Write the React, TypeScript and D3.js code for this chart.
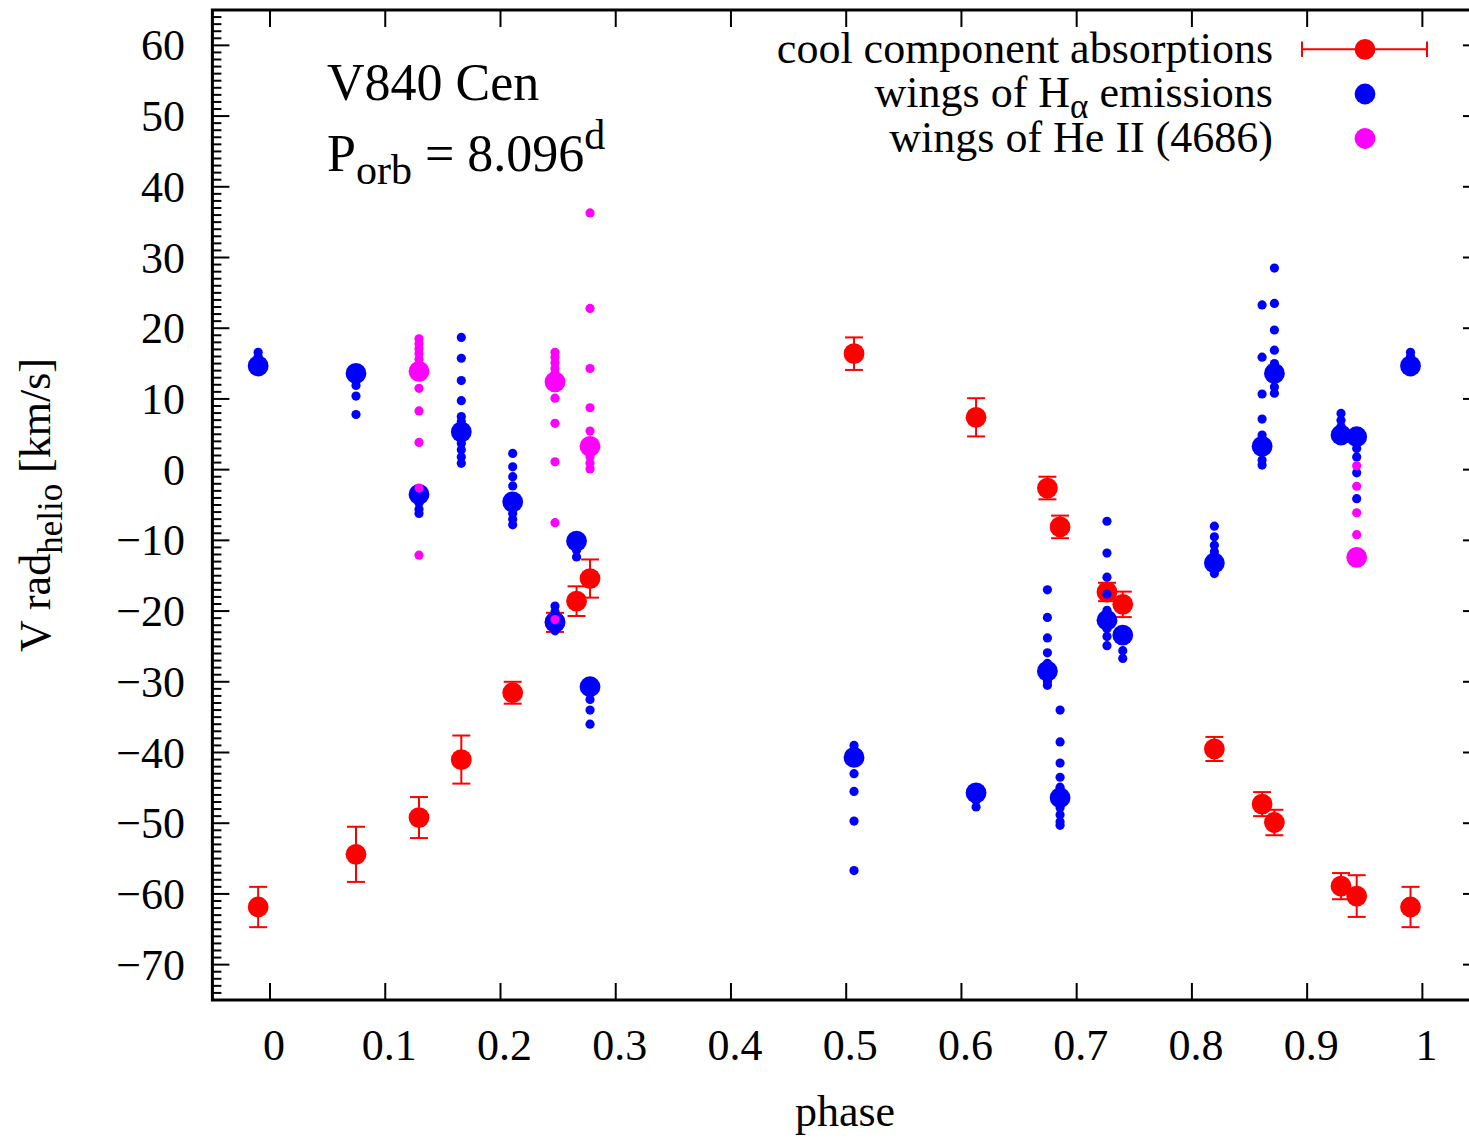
import React from 'react';
import * as d3 from 'd3';

const W = 1469;
const H = 1138;

// ---- axis ticks ----
const phaseTicks = [0, 0.1, 0.2, 0.3, 0.4, 0.5, 0.6, 0.7, 0.8, 0.9, 1];
const phaseTickLabels = ['0', '0.1', '0.2', '0.3', '0.4', '0.5', '0.6', '0.7', '0.8', '0.9', '1'];
const velTicks = [-70, -60, -50, -40, -30, -20, -10, 0, 10, 20, 30, 40, 50, 60];
const velTickLabels = ['\u221270', '\u221260', '\u221250', '\u221240', '\u221230', '\u221220', '\u221210', '0', '10', '20', '30', '40', '50', '60'];

// ---- cool component absorptions (red, with error bars) ----
const coolPhase = [0.0746, 0.1293, 0.166, 0.2106, 0.2473, 0.266, 0.2777, 0.5068, 0.6127, 0.6746, 0.6856, 0.7263, 0.740, 0.8195, 0.8609, 0.8716, 0.9294, 0.943, 0.9897];
const coolVel = [-54.4, -49.2, -41.0, -31.55, -21.6, -18.6, -15.4, 16.4, 7.4, -2.6, -8.1, -17.3, -19.05, -39.5, -47.3, -49.9, -58.9, -60.3, -61.85];
const coolErr = [3.9, 2.9, 3.4, 1.55, 1.35, 2.1, 2.7, 2.3, 2.7, 1.6, 1.6, 1.3, 1.8, 1.7, 1.7, 1.8, 1.85, 2.95, 2.85];

// ---- wings of H-alpha emission (blue) ----
const haPhase = [0.9897, 0.0746, 0.1293, 0.166, 0.2106, 0.2473, 0.266, 0.2777, 0.5068, 0.6127, 0.6746, 0.6856, 0.7263, 0.740, 0.8195, 0.8609, 0.8716, 0.9294, 0.943];
const haMean = [14.66, 13.6, -3.5, 5.35, -4.55, -21.55, -10.1, -30.7, -40.7, -45.7, -28.5, -46.4, -21.3, -23.4, -13.2, 3.3, 13.6, 4.9, 4.65];
const haWings = [
  [16.6, 16.0, 15.4],
  [12.6, 11.9, 10.4, 7.8],
  [-4.7, -5.6, -6.2],
  [18.7, 15.75, 12.6, 9.75, 7.5, 6.8, 3.7, 2.8, 1.8, 0.9],
  [2.3, 0.4, -1.0, -2.3, -6.2, -7.0, -7.8],
  [-19.3, -20.1, -22.8],
  [-11.4, -12.35],
  [-31.5, -32.5, -34.0, -36.0],
  [-39.0, -43.0, -45.5, -49.7, -56.7],
  [-46.8, -47.7],
  [-17.0, -20.9, -23.8, -25.9, -27.4, -30.0, -30.5],
  [-34.0, -38.5, -41.5, -43.5, -44.9, -47.8, -48.8, -49.8, -50.3],
  [-7.3, -11.8, -15.2, -17.6, -19.9, -22.5, -23.6, -24.9],
  [-25.6, -26.7],
  [-8.0, -9.5, -10.7, -11.6, -14.7],
  [23.3, 15.9, 10.7, 7.15, 4.9, 1.35, 0.65],
  [28.5, 23.5, 19.75, 16.9, 15.0, 11.7, 10.8],
  [7.95, 7.0, 6.1],
  [3.0, 1.8, -0.45, -4.1],
];

// ---- wings of He II (4686) (magenta) ----
const heIIPhase = [0.1293, 0.2473, 0.2777, 0.943];
const heIIMean = [13.9, 12.4, 3.3, -12.4];
const heIIWings = [
  [18.5, 17.8, 17.1, 16.4, 15.6, 11.5, 8.3, 3.85, -2.6, -12.1],
  [16.6, 15.9, 15.1, 14.3, 13.6, 10.1, 6.55, 1.1, -7.5, -21.2],
  [36.3, 22.8, 14.3, 8.75, 5.45, 1.8, 0.9, 0.1],
  [0.55, -2.35, -6.1, -9.2],
];

const PH_MIN = -0.05;
const PH_MAX = 1.05;

const x = d3.scaleLinear().domain([PH_MIN, PH_MAX]).range([212.4, 1480]);
const y = d3.scaleLinear().domain([-75, 65]).range([1000, 10]);

const FONT = "'Liberation Serif', 'Times New Roman', Times, serif";
const RED = '#ff0000';
const BLUE = '#0000ff';
const MAG = '#ff00ff';
const R_BIG = 10.4;
const R_SMALL = 4.6;

function copies(p: number): number[] {
  return [p - 1, p, p + 1].filter((q) => q >= PH_MIN && q <= PH_MAX);
}

export default function App() {
  const minorVel = d3.range(-75, 66, 1).filter((v) => v % 10 !== 0);
  const x0 = x.range()[0];
  const x1 = x.range()[1];
  const y0 = y.range()[1];
  const y1 = y.range()[0];

  return (
    <svg
      width={W}
      height={H}
      viewBox={`0 0 ${W} ${H}`}
      style={{ position: 'absolute', left: 0, top: 0, background: '#fff' }}
      fontFamily={FONT}
    >
      <rect x={0} y={0} width={W} height={H} fill="#fff" />

      {/* ticks */}
      <g stroke="#000" strokeWidth={2}>
        {phaseTicks.map((t) => (
          <g key={'xt' + t}>
            <line x1={x(t)} x2={x(t)} y1={y1} y2={y1 - 17} />
            <line x1={x(t)} x2={x(t)} y1={y0} y2={y0 + 17} />
          </g>
        ))}
        {velTicks.map((t) => (
          <g key={'yt' + t}>
            <line x1={x0} x2={x0 + 17} y1={y(t)} y2={y(t)} />
            <line x1={x1} x2={x1 - 17} y1={y(t)} y2={y(t)} />
          </g>
        ))}
        {minorVel.map((t) => (
          <g key={'ym' + t}>
            <line x1={x0} x2={x0 + 9} y1={y(t)} y2={y(t)} />
            <line x1={x1} x2={x1 - 9} y1={y(t)} y2={y(t)} />
          </g>
        ))}
      </g>

      {/* tick labels */}
      <g fontSize={44} fill="#000">
        {phaseTicks.map((t, i) => (
          <text key={'xl' + t} x={x(t) + 4} y={1060} textAnchor="middle">
            {phaseTickLabels[i]}
          </text>
        ))}
        {velTicks.map((t, i) => (
          <text key={'yl' + t} x={185} y={y(t) + 15} textAnchor="end">
            {velTickLabels[i]}
          </text>
        ))}
      </g>

      {/* axis titles */}
      <text x={845} y={1126} fontSize={44} textAnchor="middle">phase</text>
      <text transform="translate(50,505) rotate(-90)" fontSize={44} textAnchor="middle">
        V rad
        <tspan fontSize={35} dy={12}>helio</tspan>
        <tspan dy={-12}> [km/s]</tspan>
      </text>

      {/* annotation */}
      <text x={327} y={100} fontSize={52}>V840 Cen</text>
      <text x={327} y={171} fontSize={52}>
        P
        <tspan fontSize={42} dy={13}>orb</tspan>
        <tspan dy={-13}> = 8.096</tspan>
        <tspan fontSize={42} dy={-22}>d</tspan>
      </text>

      {/* red: cool component absorptions */}
      <g>
        {coolPhase.map((p, i) =>
          copies(p).map((q) => {
            const cx = x(q);
            const cy = y(coolVel[i]);
            const yt = y(coolVel[i] + coolErr[i]);
            const yb = y(coolVel[i] - coolErr[i]);
            return (
              <g key={'c' + i + '_' + q}>
                <g stroke={RED} strokeWidth={2}>
                  <line x1={cx} x2={cx} y1={yt} y2={yb} />
                  <line x1={cx - 9} x2={cx + 9} y1={yt} y2={yt} />
                  <line x1={cx - 9} x2={cx + 9} y1={yb} y2={yb} />
                </g>
                <circle cx={cx} cy={cy} r={R_BIG} fill={RED} />
              </g>
            );
          })
        )}
      </g>

      {/* blue: H-alpha wings */}
      <g fill={BLUE}>
        {haPhase.map((p, i) =>
          copies(p).map((q) => (
            <g key={'h' + i + '_' + q}>
              {haWings[i].map((v, j) => (
                <circle key={j} cx={x(q)} cy={y(v)} r={R_SMALL} />
              ))}
              <circle cx={x(q)} cy={y(haMean[i])} r={R_BIG} />
            </g>
          ))
        )}
      </g>

      {/* magenta: He II wings */}
      <g fill={MAG}>
        {heIIPhase.map((p, i) =>
          copies(p).map((q) => (
            <g key={'he' + i + '_' + q}>
              {heIIWings[i].map((v, j) => (
                <circle key={j} cx={x(q)} cy={y(v)} r={R_SMALL} />
              ))}
              <circle cx={x(q)} cy={y(heIIMean[i])} r={R_BIG} />
            </g>
          ))
        )}
      </g>

      {/* legend */}
      <g fontSize={44}>
        <text x={1273} y={63} textAnchor="end">cool component absorptions</text>
        <text x={1273} y={107} textAnchor="end">
          wings of H
          <tspan fontSize={35} dy={11}>{'\u03b1'}</tspan>
          <tspan dy={-11}> emissions</tspan>
        </text>
        <text x={1273} y={152} textAnchor="end">wings of He II (4686)</text>
        <g stroke={RED} strokeWidth={2}>
          <line x1={1302} x2={1427} y1={49.3} y2={49.3} />
          <line x1={1302} x2={1302} y1={41.5} y2={57} />
          <line x1={1427} x2={1427} y1={41.5} y2={57} />
        </g>
        <circle cx={1365} cy={49.3} r={R_BIG} fill={RED} />
        <circle cx={1365} cy={94} r={R_BIG} fill={BLUE} />
        <circle cx={1365} cy={138.5} r={R_BIG} fill={MAG} />
      </g>

      {/* border */}
      <rect x={x0} y={y0} width={x1 - x0} height={y1 - y0} fill="none" stroke="#000" strokeWidth={3} />
    </svg>
  );
}
